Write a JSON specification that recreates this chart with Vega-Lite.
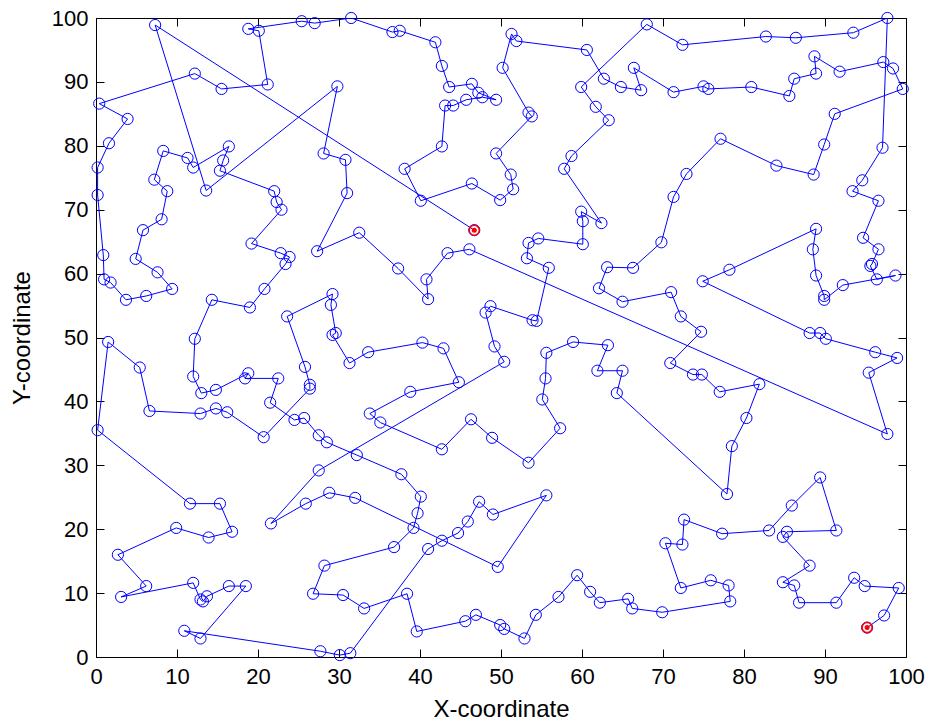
{
"$schema": "https://vega.github.io/schema/vega-lite/v6.json",
"width": 810, "height": 639,
"autosize": "none",
"padding": {"left": 96, "top": 18, "right": 30, "bottom": 69},
"background": "white",
"config": {
 "view": {"stroke": "black", "strokeWidth": 1},
 "axis": {"labelFont": "Liberation Sans", "labelFontSize": 22, "labelColor": "black", "titleFont": "Liberation Sans", "titleFontSize": 24, "titleFontWeight": "normal", "titleColor": "black", "domain": false, "grid": false, "tickColor": "black", "tickSize": 8, "tickWidth": 1, "labelOverlap": false, "labelFlush": false}
},
"datasets": {
"tour": [
{"i":1,"x":46.7,"y":66.8},{"i":2,"x":7.3,"y":98.9},{"i":3,"x":13.6,"y":73.0},{"i":4,"x":29.8,"y":89.3},{"i":5,"x":28.1,"y":78.8},{"i":6,"x":30.8,"y":77.8},{"i":7,"x":31.0,"y":72.6},{"i":8,"x":27.3,"y":63.5},{"i":9,"x":32.5,"y":66.4},{"i":10,"x":37.3,"y":60.8},
{"i":11,"x":41.0,"y":56.0},{"i":12,"x":40.8,"y":59.1},{"i":13,"x":43.4,"y":63.2},{"i":14,"x":46.1,"y":63.8},{"i":15,"x":97.7,"y":34.9},{"i":16,"x":95.4,"y":44.5},{"i":17,"x":98.9,"y":46.8},{"i":18,"x":96.2,"y":47.7},{"i":19,"x":90.1,"y":49.8},{"i":20,"x":89.4,"y":50.7},
{"i":21,"x":88.1,"y":50.7},{"i":22,"x":74.9,"y":58.8},{"i":23,"x":78.2,"y":60.6},{"i":24,"x":88.9,"y":67.0},{"i":25,"x":88.5,"y":63.8},{"i":26,"x":88.9,"y":59.7},{"i":27,"x":89.9,"y":56.5},{"i":28,"x":89.9,"y":55.9},{"i":29,"x":92.2,"y":58.2},{"i":30,"x":98.7,"y":59.7},
{"i":31,"x":96.4,"y":59.1},{"i":32,"x":95.6,"y":61.2},{"i":33,"x":95.8,"y":61.5},{"i":34,"x":96.6,"y":63.8},{"i":35,"x":94.7,"y":65.6},{"i":36,"x":96.6,"y":71.4},{"i":37,"x":93.4,"y":72.9},{"i":38,"x":94.6,"y":74.6},{"i":39,"x":97.1,"y":79.7},{"i":40,"x":97.7,"y":100.0},
{"i":41,"x":93.5,"y":97.7},{"i":42,"x":86.4,"y":96.9},{"i":43,"x":82.7,"y":97.1},{"i":44,"x":72.4,"y":95.8},{"i":45,"x":68.0,"y":99.0},{"i":46,"x":59.9,"y":89.2},{"i":47,"x":61.7,"y":86.1},{"i":48,"x":63.3,"y":84.0},{"i":49,"x":58.7,"y":78.4},{"i":50,"x":57.8,"y":76.4},
{"i":51,"x":62.4,"y":67.9},{"i":52,"x":59.9,"y":69.7},{"i":53,"x":60.1,"y":68.2},{"i":54,"x":60.1,"y":64.6},{"i":55,"x":54.6,"y":65.5},{"i":56,"x":53.4,"y":64.8},{"i":57,"x":53.2,"y":62.4},{"i":58,"x":55.9,"y":60.9},{"i":59,"x":54.4,"y":52.6},{"i":60,"x":53.9,"y":52.7},
{"i":61,"x":48.7,"y":54.9},{"i":62,"x":48.1,"y":53.9},{"i":63,"x":49.2,"y":48.6},{"i":64,"x":50.4,"y":46.2},{"i":65,"x":27.5,"y":29.2},{"i":66,"x":21.6,"y":20.9},{"i":67,"x":25.9,"y":24.0},{"i":68,"x":28.8,"y":25.7},{"i":69,"x":32.0,"y":24.9},{"i":70,"x":49.6,"y":14.1},
{"i":71,"x":55.6,"y":25.3},{"i":72,"x":49.0,"y":22.3},{"i":73,"x":47.3,"y":24.3},{"i":74,"x":45.9,"y":21.2},{"i":75,"x":44.7,"y":19.4},{"i":76,"x":42.7,"y":18.2},{"i":77,"x":41.0,"y":16.9},{"i":78,"x":31.4,"y":0.6},{"i":79,"x":30.1,"y":0.3},{"i":80,"x":27.7,"y":0.9},
{"i":81,"x":10.9,"y":4.1},{"i":82,"x":12.9,"y":2.9},{"i":83,"x":18.5,"y":11.1},{"i":84,"x":16.4,"y":11.1},{"i":85,"x":13.7,"y":9.5},{"i":86,"x":13.2,"y":8.7},{"i":87,"x":12.9,"y":9.0},{"i":88,"x":12.0,"y":11.6},{"i":89,"x":3.1,"y":9.4},{"i":90,"x":6.2,"y":11.1},
{"i":91,"x":2.7,"y":16.0},{"i":92,"x":9.9,"y":20.2},{"i":93,"x":13.9,"y":18.7},{"i":94,"x":16.8,"y":19.6},{"i":95,"x":15.3,"y":24.0},{"i":96,"x":11.6,"y":24.0},{"i":97,"x":0.2,"y":35.5},{"i":98,"x":1.5,"y":49.3},{"i":99,"x":5.4,"y":45.3},{"i":100,"x":6.6,"y":38.5},
{"i":101,"x":12.9,"y":38.1},{"i":102,"x":14.8,"y":38.9},{"i":103,"x":16.2,"y":38.3},{"i":104,"x":20.7,"y":34.4},{"i":105,"x":26.4,"y":42.0},{"i":106,"x":26.4,"y":42.6},{"i":107,"x":25.8,"y":45.4},{"i":108,"x":23.6,"y":53.3},{"i":109,"x":29.2,"y":56.8},{"i":110,"x":29.0,"y":55.1},
{"i":111,"x":29.6,"y":50.7},{"i":112,"x":29.2,"y":50.4},{"i":113,"x":31.3,"y":46.0},{"i":114,"x":33.6,"y":47.7},{"i":115,"x":40.3,"y":49.2},{"i":116,"x":42.9,"y":48.3},{"i":117,"x":44.8,"y":43.0},{"i":118,"x":38.8,"y":41.5},{"i":119,"x":33.8,"y":38.1},{"i":120,"x":35.1,"y":36.7},
{"i":121,"x":42.7,"y":32.5},{"i":122,"x":46.3,"y":37.2},{"i":123,"x":48.9,"y":34.3},{"i":124,"x":53.4,"y":30.4},{"i":125,"x":57.3,"y":35.8},{"i":126,"x":55.1,"y":40.3},{"i":127,"x":55.5,"y":43.6},{"i":128,"x":55.6,"y":47.6},{"i":129,"x":58.9,"y":49.3},{"i":130,"x":63.2,"y":48.8},
{"i":131,"x":61.9,"y":44.8},{"i":132,"x":65.0,"y":44.8},{"i":133,"x":64.3,"y":41.3},{"i":134,"x":77.9,"y":25.5},{"i":135,"x":78.5,"y":33.0},{"i":136,"x":80.3,"y":37.4},{"i":137,"x":81.9,"y":42.7},{"i":138,"x":77.0,"y":41.5},{"i":139,"x":74.8,"y":44.2},{"i":140,"x":73.7,"y":44.2},
{"i":141,"x":70.9,"y":46.0},{"i":142,"x":74.7,"y":50.9},{"i":143,"x":72.2,"y":53.3},{"i":144,"x":71.0,"y":57.1},{"i":145,"x":65.0,"y":55.6},{"i":146,"x":62.1,"y":57.7},{"i":147,"x":63.1,"y":61.0},{"i":148,"x":66.3,"y":60.9},{"i":149,"x":69.8,"y":64.9},{"i":150,"x":71.3,"y":72.0},
{"i":151,"x":72.9,"y":75.6},{"i":152,"x":77.1,"y":81.1},{"i":153,"x":84.0,"y":76.9},{"i":154,"x":88.6,"y":75.5},{"i":155,"x":89.9,"y":80.2},{"i":156,"x":91.2,"y":85.0},{"i":157,"x":99.6,"y":88.9},{"i":158,"x":98.4,"y":92.1},{"i":159,"x":97.2,"y":93.1},{"i":160,"x":91.8,"y":91.6},
{"i":161,"x":88.7,"y":94.0},{"i":162,"x":88.9,"y":91.3},{"i":163,"x":86.2,"y":90.5},{"i":164,"x":85.6,"y":87.8},{"i":165,"x":80.9,"y":89.2},{"i":166,"x":75.6,"y":88.9},{"i":167,"x":75.0,"y":89.3},{"i":168,"x":71.3,"y":88.4},{"i":169,"x":66.4,"y":92.2},{"i":170,"x":67.3,"y":88.7},
{"i":171,"x":64.8,"y":89.2},{"i":172,"x":62.7,"y":90.5},{"i":173,"x":60.6,"y":95.0},{"i":174,"x":51.9,"y":96.4},{"i":175,"x":51.3,"y":97.5},{"i":176,"x":50.2,"y":92.2},{"i":177,"x":53.4,"y":85.2},{"i":178,"x":53.8,"y":84.6},{"i":179,"x":49.4,"y":78.8},{"i":180,"x":51.2,"y":75.5},
{"i":181,"x":51.5,"y":73.2},{"i":182,"x":49.9,"y":71.5},{"i":183,"x":46.4,"y":74.1},{"i":184,"x":40.1,"y":71.4},{"i":185,"x":38.1,"y":76.4},{"i":186,"x":42.7,"y":79.9},{"i":187,"x":43.1,"y":86.3},{"i":188,"x":44.1,"y":86.3},{"i":189,"x":45.7,"y":87.2},{"i":190,"x":47.7,"y":87.6},
{"i":191,"x":49.4,"y":87.2},{"i":192,"x":47.2,"y":88.3},{"i":193,"x":46.4,"y":89.7},{"i":194,"x":43.6,"y":89.2},{"i":195,"x":42.7,"y":92.5},{"i":196,"x":41.9,"y":96.2},{"i":197,"x":37.5,"y":98.0},{"i":198,"x":36.6,"y":97.8},{"i":199,"x":31.5,"y":100.0},{"i":200,"x":27.0,"y":99.2},
{"i":201,"x":25.4,"y":99.5},{"i":202,"x":18.8,"y":98.3},{"i":203,"x":20.1,"y":98.0},{"i":204,"x":21.2,"y":89.6},{"i":205,"x":15.5,"y":88.9},{"i":206,"x":12.2,"y":91.3},{"i":207,"x":0.4,"y":86.6},{"i":208,"x":3.9,"y":84.2},{"i":209,"x":1.6,"y":80.4},{"i":210,"x":0.2,"y":76.6},
{"i":211,"x":0.2,"y":72.3},{"i":212,"x":0.9,"y":62.9},{"i":213,"x":1.0,"y":59.1},{"i":214,"x":1.8,"y":58.6},{"i":215,"x":3.7,"y":55.9},{"i":216,"x":6.2,"y":56.5},{"i":217,"x":9.4,"y":57.6},{"i":218,"x":7.6,"y":60.2},{"i":219,"x":4.9,"y":62.3},{"i":220,"x":5.8,"y":66.8},
{"i":221,"x":8.1,"y":68.5},{"i":222,"x":8.8,"y":72.9},{"i":223,"x":7.2,"y":74.7},{"i":224,"x":8.3,"y":79.2},{"i":225,"x":11.3,"y":78.1},{"i":226,"x":12.0,"y":76.6},{"i":227,"x":16.4,"y":79.9},{"i":228,"x":15.7,"y":77.7},{"i":229,"x":15.3,"y":76.1},{"i":230,"x":22.0,"y":72.9},
{"i":231,"x":22.3,"y":71.2},{"i":232,"x":22.9,"y":70.0},{"i":233,"x":19.2,"y":64.7},{"i":234,"x":22.8,"y":63.2},{"i":235,"x":23.9,"y":62.6},{"i":236,"x":23.4,"y":61.5},{"i":237,"x":20.8,"y":57.6},{"i":238,"x":19.0,"y":54.7},{"i":239,"x":14.3,"y":55.9},{"i":240,"x":12.2,"y":49.8},
{"i":241,"x":12.0,"y":43.9},{"i":242,"x":13.0,"y":41.3},{"i":243,"x":14.8,"y":41.8},{"i":244,"x":18.8,"y":44.4},{"i":245,"x":18.4,"y":43.6},{"i":246,"x":22.5,"y":43.6},{"i":247,"x":21.5,"y":39.8},{"i":248,"x":24.5,"y":37.1},{"i":249,"x":25.7,"y":37.4},{"i":250,"x":27.5,"y":34.7},
{"i":251,"x":28.5,"y":33.6},{"i":252,"x":32.2,"y":31.6},{"i":253,"x":37.7,"y":28.6},{"i":254,"x":40.1,"y":25.1},{"i":255,"x":39.7,"y":22.5},{"i":256,"x":39.2,"y":20.2},{"i":257,"x":36.8,"y":17.2},{"i":258,"x":28.2,"y":14.3},{"i":259,"x":26.8,"y":9.9},{"i":260,"x":30.5,"y":9.7},
{"i":261,"x":33.1,"y":7.6},{"i":262,"x":38.4,"y":9.9},{"i":263,"x":39.6,"y":4.0},{"i":264,"x":45.6,"y":5.6},{"i":265,"x":46.9,"y":6.6},{"i":266,"x":49.9,"y":5.0},{"i":267,"x":50.4,"y":4.4},{"i":268,"x":52.9,"y":2.9},{"i":269,"x":54.3,"y":6.6},{"i":270,"x":57.1,"y":9.4},
{"i":271,"x":59.4,"y":12.8},{"i":272,"x":61.0,"y":10.2},{"i":273,"x":62.2,"y":8.5},{"i":274,"x":65.7,"y":9.1},{"i":275,"x":66.2,"y":7.6},{"i":276,"x":69.9,"y":7.0},{"i":277,"x":78.3,"y":8.7},{"i":278,"x":78.1,"y":11.2},{"i":279,"x":75.9,"y":12.0},{"i":280,"x":72.2,"y":10.8},
{"i":281,"x":70.3,"y":17.8},{"i":282,"x":72.4,"y":17.6},{"i":283,"x":72.6,"y":21.5},{"i":284,"x":77.3,"y":19.3},{"i":285,"x":83.1,"y":19.8},{"i":286,"x":85.9,"y":23.7},{"i":287,"x":89.4,"y":28.1},{"i":288,"x":91.4,"y":19.8},{"i":289,"x":85.3,"y":19.6},{"i":290,"x":84.8,"y":18.8},
{"i":291,"x":88.1,"y":14.3},{"i":292,"x":84.8,"y":11.7},{"i":293,"x":86.2,"y":11.2},{"i":294,"x":86.8,"y":8.5},{"i":295,"x":91.4,"y":8.5},{"i":296,"x":93.6,"y":12.4},{"i":297,"x":94.9,"y":11.1},{"i":298,"x":99.1,"y":10.8},{"i":299,"x":97.3,"y":6.5},{"i":300,"x":95.2,"y":4.6}
],
"ends": [{"x":46.7,"y":66.8},{"x":95.2,"y":4.6}]
},
"resolve": {"axis": {"x": "independent", "y": "independent"}},
"layer": [
 {"data": {"name": "tour"},
  "mark": {"type": "line", "color": "#0000ff", "strokeWidth": 1, "clip": true},
  "encoding": {
   "x": {"field": "x", "type": "quantitative", "scale": {"domain": [0, 100], "nice": false, "zero": false}, "axis": {"orient": "bottom", "values": [0,10,20,30,40,50,60,70,80,90,100], "ticks": false, "title": "X-coordinate", "labelPadding": 9, "titlePadding": 10}},
   "y": {"field": "y", "type": "quantitative", "scale": {"domain": [0, 100], "nice": false, "zero": false}, "axis": {"orient": "left", "values": [0,10,20,30,40,50,60,70,80,90,100], "ticks": false, "title": "Y-coordinate", "labelPadding": 8, "titlePadding": 17}},
   "order": {"field": "i", "type": "quantitative"}
  }},
 {"data": {"name": "tour"},
  "mark": {"type": "point", "shape": "circle", "size": 125, "filled": false, "opacity": 1, "color": "#0000ff", "strokeWidth": 1},
  "encoding": {
   "x": {"field": "x", "type": "quantitative", "axis": {"orient": "top", "offset": -8, "values": [0,10,20,30,40,50,60,70,80,90,100], "labels": false, "title": null}},
   "y": {"field": "y", "type": "quantitative", "axis": {"orient": "right", "offset": -8, "values": [0,10,20,30,40,50,60,70,80,90,100], "labels": false, "title": null}}
  }},
 {"data": {"name": "ends"},
  "mark": {"type": "point", "shape": "circle", "size": 100, "filled": false, "opacity": 1, "color": "#ff0000", "strokeWidth": 1.5},
  "encoding": {
   "x": {"field": "x", "type": "quantitative", "axis": {"orient": "bottom", "offset": -8, "values": [0,10,20,30,40,50,60,70,80,90,100], "labels": false, "title": null}},
   "y": {"field": "y", "type": "quantitative", "axis": {"orient": "left", "offset": -8, "values": [0,10,20,30,40,50,60,70,80,90,100], "labels": false, "title": null}}
  }},
 {"data": {"name": "ends"},
  "mark": {"type": "point", "shape": "circle", "size": 25, "filled": true, "opacity": 1, "color": "#ff0000"},
  "encoding": {
   "x": {"field": "x", "type": "quantitative", "axis": null},
   "y": {"field": "y", "type": "quantitative", "axis": null}
  }}
]
}
